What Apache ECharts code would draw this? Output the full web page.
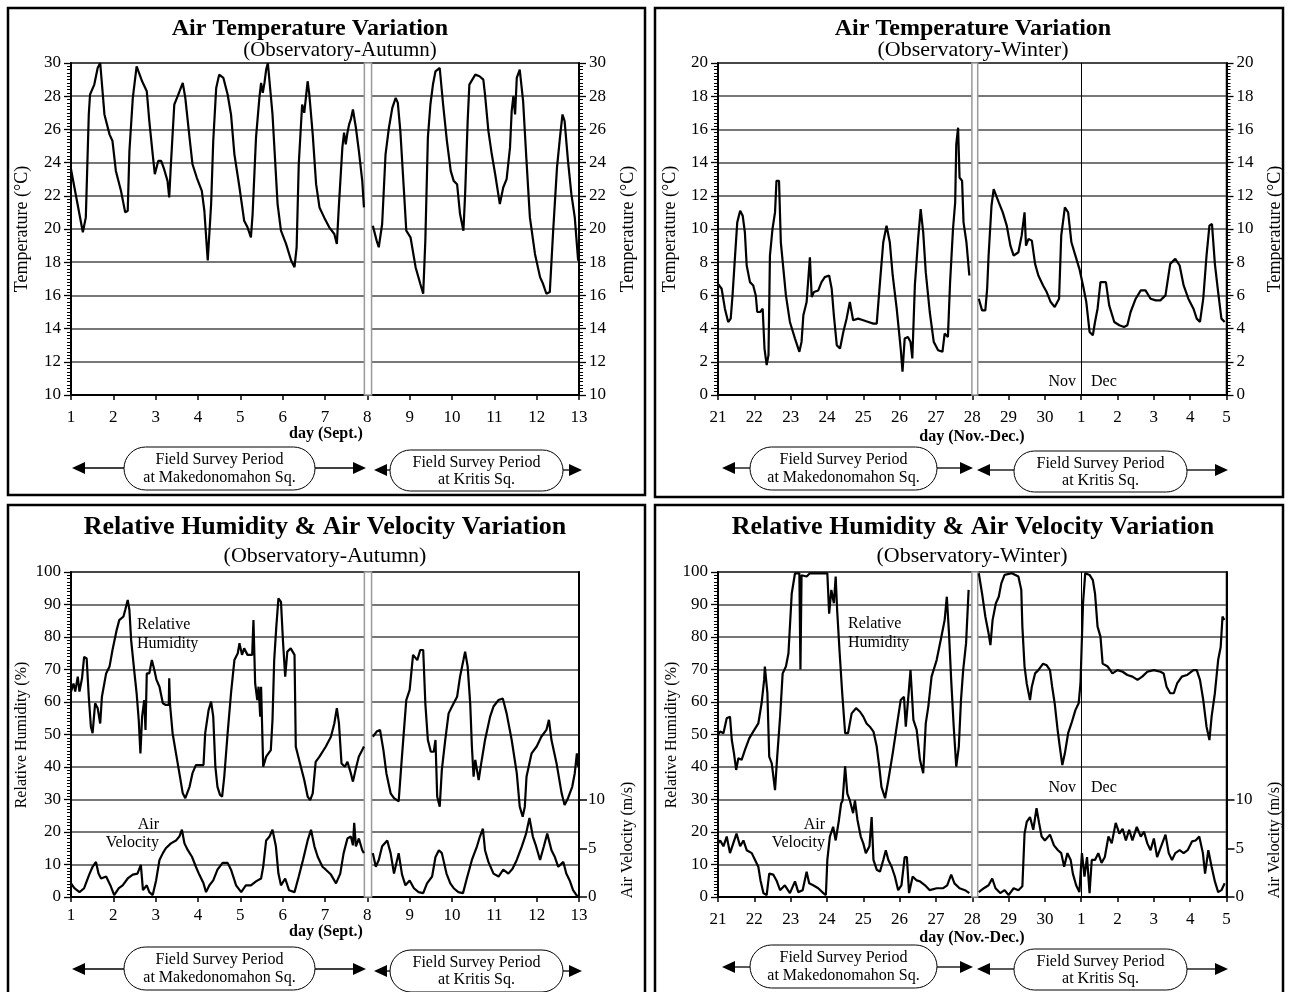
<!DOCTYPE html>
<html>
<head>
<meta charset="utf-8">
<script src="https://cdn.jsdelivr.net/npm/echarts@6/dist/echarts.min.js"></script>
<style>
html,body{margin:0;padding:0;background:#fff;}
#chart{width:1289px;height:992px;}
</style>
</head>
<body>
<div id="chart"></div>
<script>
// ---------------- DATA ----------------
// [day, value]; null marks the break at the change of survey site
const tempAutumnTicks = [1,2,3,4,5,6,7,8,9,10,11,12,13];
const tempAutumn = [[1.00,23.6],[1.28,19.8],[1.35,20.7],[1.42,26.9],[1.45,28.1],[1.55,28.7],[1.63,29.7],[1.69,30.0],[1.79,26.9],[1.91,25.7],[1.98,25.3],[2.06,23.5],[2.18,22.3],[2.28,21.0],[2.34,21.1],[2.38,24.7],[2.46,27.9],[2.55,29.8],[2.68,28.9],[2.79,28.3],[2.85,26.5],[2.93,24.5],[2.98,23.3],[3.06,24.1],[3.13,24.1],[3.20,23.6],[3.28,22.9],[3.32,21.9],[3.36,23.9],[3.44,27.5],[3.52,28.0],[3.64,28.8],[3.70,27.9],[3.80,25.5],[3.87,23.9],[3.97,23.1],[4.09,22.3],[4.15,21.1],[4.23,18.1],[4.31,21.5],[4.36,25.3],[4.43,28.5],[4.50,29.3],[4.60,29.1],[4.70,28.1],[4.78,26.9],[4.86,24.5],[4.98,22.5],[5.09,20.5],[5.17,20.1],[5.25,19.5],[5.29,20.9],[5.37,25.5],[5.45,27.9],[5.49,28.8],[5.53,28.2],[5.57,28.8],[5.61,29.6],[5.65,30.0],[5.76,26.9],[5.88,21.5],[5.96,19.9],[6.08,19.1],[6.20,18.1],[6.28,17.7],[6.33,18.9],[6.38,23.9],[6.46,27.5],[6.51,27.0],[6.59,28.9],[6.63,28.1],[6.71,25.7],[6.79,22.7],[6.87,21.3],[6.98,20.7],[7.10,20.1],[7.22,19.7],[7.28,19.1],[7.33,21.5],[7.41,24.9],[7.45,25.8],[7.49,25.1],[7.53,25.8],[7.57,26.3],[7.61,26.6],[7.66,27.2],[7.73,26.1],[7.80,24.7],[7.88,22.9],[7.92,21.3],
null,
[8.13,20.2],[8.22,19.3],[8.27,18.9],[8.35,20.3],[8.43,24.5],[8.51,26.1],[8.59,27.3],[8.67,27.9],[8.72,27.6],[8.78,25.9],[8.86,22.5],[8.92,19.9],[9.02,19.5],[9.14,17.7],[9.25,16.7],[9.32,16.1],[9.37,19.3],[9.43,25.5],[9.49,27.5],[9.55,28.7],[9.61,29.5],[9.71,29.7],[9.79,27.5],[9.88,25.3],[9.97,23.5],[10.04,22.9],[10.12,22.7],[10.19,20.9],[10.27,19.9],[10.31,22.1],[10.37,26.5],[10.41,28.7],[10.55,29.3],[10.65,29.2],[10.74,29.0],[10.78,28.1],[10.86,25.9],[10.94,24.5],[11.02,23.3],[11.13,21.5],[11.21,22.5],[11.29,23.0],[11.37,24.9],[11.41,27.1],[11.45,28.0],[11.49,26.9],[11.53,29.1],[11.60,29.6],[11.68,27.7],[11.76,24.1],[11.84,20.7],[11.96,18.5],[12.08,17.1],[12.15,16.7],[12.23,16.1],[12.31,16.2],[12.39,19.9],[12.48,23.7],[12.55,25.5],[12.61,26.9],[12.66,26.5],[12.74,24.1],[12.82,22.1],[12.90,20.7],[12.98,18.1]];

const tempWinter = [[21.00,6.7],[21.10,6.4],[21.19,5.2],[21.28,4.4],[21.35,4.6],[21.40,6.0],[21.47,8.4],[21.53,10.4],[21.61,11.1],[21.68,10.8],[21.74,9.8],[21.79,7.8],[21.88,6.8],[21.97,6.6],[22.04,6.0],[22.08,5.0],[22.16,5.0],[22.23,5.2],[22.28,2.8],[22.34,1.8],[22.39,2.4],[22.43,8.4],[22.50,10.0],[22.57,11.0],[22.61,12.9],[22.68,12.9],[22.73,9.2],[22.80,7.6],[22.87,6.0],[22.98,4.4],[23.12,3.4],[23.24,2.6],[23.30,3.2],[23.35,4.8],[23.44,5.6],[23.50,7.4],[23.53,8.3],[23.58,5.9],[23.64,6.2],[23.76,6.3],[23.85,6.8],[23.94,7.1],[24.06,7.2],[24.13,6.4],[24.19,4.8],[24.27,3.0],[24.36,2.8],[24.45,3.8],[24.54,4.6],[24.63,5.6],[24.72,4.5],[24.86,4.6],[25.00,4.5],[25.14,4.4],[25.28,4.3],[25.37,4.3],[25.46,6.8],[25.55,9.2],[25.64,10.2],[25.73,9.2],[25.81,7.2],[25.92,5.2],[26.03,2.8],[26.08,1.4],[26.14,3.4],[26.23,3.5],[26.30,3.2],[26.35,2.2],[26.42,6.6],[26.51,9.4],[26.58,11.2],[26.65,9.8],[26.72,7.4],[26.83,5.0],[26.94,3.2],[27.06,2.7],[27.18,2.6],[27.24,3.7],[27.33,3.5],[27.39,6.8],[27.47,10.0],[27.53,11.6],[27.56,15.1],[27.61,16.1],[27.65,13.1],[27.72,12.9],[27.76,10.4],[27.84,9.2],[27.92,7.2],
null,
[28.18,5.8],[28.27,5.1],[28.36,5.1],[28.41,6.4],[28.45,8.4],[28.53,11.4],[28.59,12.4],[28.64,12.4],[28.73,11.6],[28.84,11.0],[28.95,10.2],[29.05,9.0],[29.14,8.4],[29.27,8.6],[29.36,9.6],[29.44,11.0],[29.48,9.0],[29.55,9.4],[29.64,9.3],[29.73,7.9],[29.82,7.2],[29.95,6.6],[30.05,6.2],[30.16,5.6],[30.27,5.3],[30.39,5.8],[30.45,9.6],[30.55,11.3],[30.64,11.0],[30.73,9.2],[30.84,8.4],[30.95,7.6],[31.05,6.6],[31.14,5.6],[31.23,3.8],[31.32,3.6],[31.38,4.4],[31.45,5.2],[31.53,6.8],[31.68,6.8],[31.77,5.4],[31.91,4.4],[32.05,4.2],[32.18,4.1],[32.27,4.2],[32.36,5.0],[32.50,5.8],[32.64,6.3],[32.77,6.3],[32.91,5.8],[33.05,5.7],[33.18,5.7],[33.32,6.0],[33.45,7.9],[33.59,8.2],[33.71,7.8],[33.82,6.6],[33.95,5.8],[34.09,5.2],[34.18,4.6],[34.27,4.4],[34.36,5.8],[34.45,8.4],[34.53,10.2],[34.60,10.3],[34.68,7.9],[34.77,6.2],[34.86,4.6],[34.95,4.4]];

const humAutumn = [[1.00,63.2],[1.06,65.7],[1.10,63.2],[1.16,67.8],[1.20,63.2],[1.26,67.3],[1.31,73.9],[1.37,73.4],[1.42,61.6],[1.47,52.4],[1.51,50.4],[1.57,59.6],[1.63,58.1],[1.69,53.4],[1.73,61.6],[1.83,68.8],[1.91,70.9],[1.98,76.0],[2.08,82.2],[2.14,85.2],[2.24,86.3],[2.28,88.3],[2.34,91.4],[2.38,88.3],[2.42,79.1],[2.50,68.8],[2.55,62.7],[2.60,54.5],[2.64,44.2],[2.68,55.5],[2.73,60.6],[2.76,51.4],[2.79,68.8],[2.85,68.8],[2.91,72.9],[2.97,69.8],[3.02,66.8],[3.09,64.7],[3.17,59.6],[3.24,59.1],[3.31,59.1],[3.32,67.3],[3.34,59.1],[3.40,50.4],[3.48,44.2],[3.56,38.1],[3.64,31.9],[3.70,30.4],[3.80,33.9],[3.87,38.1],[3.95,40.6],[4.13,40.6],[4.17,50.4],[4.25,57.5],[4.31,60.1],[4.36,55.5],[4.41,40.1],[4.46,33.9],[4.52,31.4],[4.57,30.9],[4.62,37.0],[4.70,50.4],[4.78,62.7],[4.86,72.9],[4.94,75.0],[4.98,78.1],[5.04,74.5],[5.09,76.5],[5.17,74.5],[5.28,74.5],[5.31,85.2],[5.35,65.7],[5.40,60.6],[5.43,64.7],[5.47,55.5],[5.49,64.7],[5.54,40.1],[5.61,43.2],[5.72,45.2],[5.76,54.5],[5.80,72.9],[5.85,83.2],[5.90,91.9],[5.96,90.8],[6.01,78.1],[6.06,67.8],[6.11,75.5],[6.19,76.5],[6.28,74.5],[6.31,46.2],[6.41,41.1],[6.51,36.0],[6.59,30.9],[6.65,29.8],[6.71,31.9],[6.78,41.6],[6.87,43.2],[7.02,46.3],[7.14,49.3],[7.22,53.4],[7.28,58.1],[7.33,53.4],[7.39,41.1],[7.47,40.1],[7.53,41.6],[7.61,38.1],[7.66,35.5],[7.73,39.6],[7.80,43.2],[7.88,45.2],[7.92,46.3],
null,
[8.13,49.3],[8.22,50.9],[8.30,51.4],[8.38,45.2],[8.45,38.1],[8.55,31.9],[8.63,30.4],[8.74,29.4],[8.80,40.1],[8.86,50.4],[8.92,60.6],[9.00,63.7],[9.08,74.5],[9.18,72.9],[9.25,76.0],[9.32,76.0],[9.37,59.6],[9.43,48.3],[9.50,44.7],[9.57,44.7],[9.61,48.3],[9.65,30.9],[9.71,27.8],[9.76,39.1],[9.84,48.3],[9.92,56.5],[10.00,58.6],[10.12,61.6],[10.19,67.8],[10.27,72.9],[10.31,75.5],[10.37,70.9],[10.43,59.6],[10.47,46.3],[10.51,37.0],[10.55,42.2],[10.63,36.0],[10.69,41.1],[10.78,48.3],[10.90,55.5],[10.98,58.6],[11.10,60.6],[11.20,61.1],[11.29,56.5],[11.41,48.3],[11.53,38.1],[11.60,27.8],[11.67,24.7],[11.72,27.8],[11.76,37.0],[11.88,44.2],[12.00,46.3],[12.11,49.3],[12.23,51.4],[12.29,54.5],[12.35,48.3],[12.47,41.1],[12.59,31.9],[12.66,28.3],[12.74,30.4],[12.84,33.9],[12.90,38.1],[12.95,44.2],[12.98,40.1]];

const velAutumn = [[1.00,1.4],[1.08,0.9],[1.20,0.5],[1.31,0.9],[1.43,2.3],[1.51,3.1],[1.59,3.6],[1.65,2.4],[1.71,1.9],[1.83,2.1],[1.94,1.1],[2.02,0.2],[2.13,0.9],[2.22,1.2],[2.34,1.9],[2.46,2.3],[2.57,2.4],[2.65,3.3],[2.70,0.7],[2.79,1.2],[2.85,0.5],[2.93,0.2],[3.01,1.7],[3.09,3.8],[3.17,4.5],[3.24,5.0],[3.36,5.5],[3.48,5.8],[3.56,6.2],[3.62,6.9],[3.68,5.5],[3.76,4.8],[3.86,4.1],[3.95,3.1],[4.03,2.3],[4.13,1.4],[4.19,0.5],[4.27,1.2],[4.36,1.7],[4.46,2.8],[4.58,3.5],[4.70,3.5],[4.78,2.8],[4.90,1.2],[5.02,0.5],[5.13,1.2],[5.25,1.2],[5.37,1.6],[5.49,1.9],[5.54,3.1],[5.61,5.8],[5.69,6.2],[5.76,6.9],[5.84,5.2],[5.90,2.4],[5.96,1.2],[6.06,1.9],[6.15,0.7],[6.28,0.5],[6.38,2.1],[6.48,3.8],[6.59,5.8],[6.67,6.9],[6.75,5.2],[6.83,4.1],[6.94,3.1],[7.02,2.8],[7.14,2.3],[7.26,1.4],[7.36,2.4],[7.44,4.5],[7.53,6.0],[7.61,6.2],[7.66,5.3],[7.69,7.6],[7.73,5.2],[7.80,6.0],[7.88,4.8],[7.92,4.5],
null,
[8.13,4.5],[8.20,3.1],[8.27,3.8],[8.35,5.2],[8.47,5.8],[8.55,4.5],[8.63,2.4],[8.74,4.5],[8.82,2.3],[8.90,1.2],[9.00,1.7],[9.10,0.9],[9.21,0.5],[9.32,0.4],[9.41,1.4],[9.53,2.1],[9.61,4.1],[9.69,4.8],[9.76,4.5],[9.87,2.4],[9.96,1.4],[10.04,0.9],[10.15,0.5],[10.26,0.4],[10.35,1.9],[10.47,3.8],[10.59,5.2],[10.66,6.2],[10.73,7.0],[10.78,4.8],[10.86,3.6],[10.98,2.4],[11.10,2.1],[11.21,2.8],[11.33,2.4],[11.43,2.9],[11.53,3.8],[11.65,5.2],[11.75,6.5],[11.83,8.1],[11.91,6.2],[11.98,5.3],[12.08,3.8],[12.17,5.2],[12.25,6.5],[12.35,4.8],[12.43,4.1],[12.51,3.1],[12.63,3.6],[12.70,2.4],[12.78,1.7],[12.86,0.7],[12.94,0.2],[12.98,0.0]];

const humWinter = [[21.00,50.0],[21.06,50.9],[21.15,50.4],[21.24,55.0],[21.33,55.5],[21.38,48.3],[21.44,44.2],[21.50,39.1],[21.56,42.7],[21.65,42.2],[21.74,45.2],[21.86,48.8],[21.97,50.9],[22.11,53.4],[22.20,59.6],[22.27,66.8],[22.29,70.9],[22.36,62.7],[22.41,43.2],[22.48,41.1],[22.57,32.9],[22.63,43.2],[22.71,55.5],[22.78,68.8],[22.87,70.9],[22.94,75.0],[23.03,93.4],[23.12,99.6],[23.24,99.6],[23.27,70.0],[23.30,99.0],[23.35,98.6],[23.44,98.6],[23.53,99.6],[23.81,99.6],[24.01,99.6],[24.06,87.2],[24.12,94.5],[24.19,90.4],[24.24,98.6],[24.28,88.3],[24.35,75.0],[24.42,62.7],[24.50,50.4],[24.58,50.4],[24.68,56.5],[24.80,58.1],[24.91,57.0],[25.00,55.5],[25.09,53.4],[25.18,52.4],[25.28,50.9],[25.37,46.3],[25.44,40.1],[25.50,33.9],[25.60,30.4],[25.69,36.0],[25.81,44.2],[25.92,52.4],[26.03,60.6],[26.12,61.6],[26.17,52.4],[26.24,61.6],[26.30,69.8],[26.38,54.5],[26.47,51.4],[26.56,42.2],[26.65,38.1],[26.72,53.4],[26.79,58.6],[26.88,67.8],[27.02,72.9],[27.15,80.1],[27.24,85.2],[27.30,92.4],[27.36,81.1],[27.42,66.8],[27.49,52.4],[27.56,40.1],[27.63,46.3],[27.69,60.6],[27.75,69.8],[27.83,78.1],[27.90,94.5],
null,
[28.18,99.6],[28.27,93.4],[28.36,86.3],[28.45,81.1],[28.50,77.5],[28.56,85.2],[28.65,90.4],[28.73,92.4],[28.80,96.5],[28.89,99.1],[29.09,99.6],[29.27,98.6],[29.35,94.5],[29.38,83.2],[29.44,70.9],[29.50,65.7],[29.59,60.6],[29.64,64.7],[29.73,68.8],[29.82,69.8],[29.95,71.8],[30.05,71.3],[30.14,69.8],[30.20,64.7],[30.27,59.6],[30.35,51.4],[30.41,46.3],[30.48,40.6],[30.55,44.2],[30.64,50.4],[30.73,53.4],[30.84,57.5],[30.93,59.6],[30.98,65.7],[31.05,90.4],[31.11,99.6],[31.23,99.1],[31.32,97.5],[31.38,93.4],[31.45,83.2],[31.53,80.1],[31.59,71.8],[31.73,70.9],[31.86,68.8],[32.00,69.8],[32.14,69.3],[32.27,68.3],[32.41,67.8],[32.55,66.8],[32.68,67.8],[32.82,69.3],[33.00,69.8],[33.18,69.3],[33.27,68.8],[33.35,64.7],[33.45,62.7],[33.55,62.7],[33.64,65.7],[33.77,67.8],[33.91,68.3],[34.09,69.8],[34.18,69.8],[34.27,66.8],[34.36,60.6],[34.45,52.4],[34.53,48.3],[34.59,55.5],[34.68,62.7],[34.77,72.9],[34.84,76.9],[34.89,86.3],[34.94,85.2]];

const velWinter = [[21.00,5.5],[21.06,5.8],[21.15,5.2],[21.24,6.2],[21.33,4.5],[21.42,5.5],[21.51,6.5],[21.61,5.2],[21.70,5.8],[21.79,4.8],[21.93,4.5],[22.02,3.8],[22.11,3.1],[22.17,1.7],[22.25,0.4],[22.34,0.2],[22.41,2.4],[22.52,2.3],[22.61,1.7],[22.71,0.7],[22.84,1.2],[22.98,0.4],[23.12,1.6],[23.21,0.5],[23.33,0.7],[23.44,2.6],[23.51,1.4],[23.62,1.2],[23.76,0.9],[23.90,0.4],[23.97,0.2],[24.01,3.8],[24.08,6.2],[24.17,7.2],[24.24,5.8],[24.33,7.9],[24.39,9.6],[24.43,9.9],[24.50,13.4],[24.56,10.6],[24.63,9.9],[24.72,8.6],[24.77,9.9],[24.84,7.9],[24.93,6.2],[25.00,5.5],[25.07,4.5],[25.17,5.2],[25.23,8.2],[25.28,3.8],[25.37,2.8],[25.46,2.6],[25.55,3.8],[25.62,4.8],[25.69,3.8],[25.78,3.1],[25.87,2.1],[25.96,0.7],[26.05,1.2],[26.14,4.1],[26.20,4.1],[26.26,0.4],[26.36,2.1],[26.47,1.7],[26.56,1.6],[26.70,1.2],[26.83,0.7],[27.02,0.9],[27.20,0.9],[27.31,1.2],[27.42,2.3],[27.51,1.4],[27.65,0.9],[27.80,0.7],[27.92,0.4],
null,
[28.18,0.5],[28.32,0.9],[28.45,1.2],[28.55,1.9],[28.64,0.9],[28.77,0.4],[28.89,0.7],[29.00,0.2],[29.14,0.9],[29.27,0.7],[29.38,1.1],[29.44,6.5],[29.50,7.7],[29.59,8.2],[29.68,6.9],[29.77,9.1],[29.84,7.6],[29.91,6.2],[30.00,5.8],[30.14,6.4],[30.25,5.3],[30.36,4.8],[30.45,4.5],[30.53,3.1],[30.62,4.5],[30.71,3.8],[30.77,2.4],[30.86,1.2],[30.95,0.5],[31.02,4.5],[31.09,2.1],[31.16,4.1],[31.23,0.4],[31.29,3.8],[31.38,3.8],[31.47,4.5],[31.56,3.5],[31.65,4.1],[31.75,6.2],[31.84,5.5],[31.95,7.6],[32.05,6.5],[32.14,7.0],[32.23,5.8],[32.32,6.9],[32.41,5.8],[32.53,7.2],[32.64,6.2],[32.73,6.7],[32.82,5.5],[32.91,4.8],[33.00,6.0],[33.09,4.1],[33.20,5.2],[33.32,6.4],[33.41,4.5],[33.50,3.8],[33.59,4.5],[33.71,4.8],[33.82,4.5],[33.93,4.8],[34.05,5.7],[34.15,5.8],[34.25,6.2],[34.35,4.5],[34.41,2.4],[34.50,4.8],[34.59,3.1],[34.68,1.6],[34.77,0.5],[34.86,0.7],[34.95,1.4]];

const velocityTicks = [0,5,10];
const siteChangeAutumn = [7.93, 8.10];
const siteChangeWinter = [27.99, 28.15];
const monthChangeDay = 31;

// ---------------- CHART ----------------
const FONT = 'Liberation Serif';
const chart = echarts.init(document.getElementById('chart'), null, {renderer:'canvas'});

function toSeriesData(arr){ return arr.map(p => p === null ? ['-','-'] : p); }

function xAxisCfg(gi, min, max, margin, fmt){
  return {type:'value', gridIndex:gi, min, max, interval:1,
    axisLine:{show:true,onZero:false,lineStyle:{color:'#000',width:2}},
    axisTick:{show:true,length:5,lineStyle:{color:'#000',width:1.5}},
    axisLabel:{color:'#000',fontFamily:FONT,fontSize:17,margin, formatter: fmt || (v=>String(v)), hideOverlap:false, showMinLabel:true, showMaxLabel:true},
    splitLine:{show:false}};
}
function yAxisCfg(gi, pos, min, max, interval, grid){
  return {type:'value', gridIndex:gi, position:pos, min, max, interval,
    axisLine:{show:true,onZero:false,lineStyle:{color:'#000',width:2}},
    axisTick:{show:true,length:7,lineStyle:{color:'#000',width:1.3}},
    minorTick:{show:true,splitNumber:10,length:4,lineStyle:{color:'#000',width:1}},
    axisLabel:{color:'#000',fontFamily:FONT,fontSize:17,margin:10, showMinLabel:true, showMaxLabel:true},
    splitLine:{show:grid,lineStyle:{color:'#4a4a4a',width:1.6}}};
}
function velAxisCfg(gi){
  return {type:'value', gridIndex:gi, position:'right', min:0, max:100/3,
    axisLine:{show:true,lineStyle:{color:'#000',width:2}},
    axisTick:{show:true,length:8,customValues:velocityTicks,lineStyle:{color:'#000',width:1.5}},
    axisLabel:{color:'#000',fontFamily:FONT,fontSize:17,margin:9,customValues:velocityTicks},
    splitLine:{show:false}, minorTick:{show:false}};
}
function lineSeries(xi, yi, data, extra){
  return Object.assign({type:'line', xAxisIndex:xi, yAxisIndex:yi, data:toSeriesData(data),
    showSymbol:false, symbol:'none', connectNulls:false, silent:true,
    lineStyle:{color:'#000',width:2.2}, z:5}, extra||{});
}
function siteBar(range){
  return {silent:true, itemStyle:{color:'#fff',borderColor:'#9a9a9a',borderWidth:1.5},
    data:[[{xAxis:range[0]},{xAxis:range[1]}]]};
}
const monthLine = {silent:true, symbol:['none','none'], label:{show:false},
  lineStyle:{color:'#000',width:1,type:'solid'}, data:[{xAxis:monthChangeDay}]};

const winterFmt = v => String(v > 30 ? v - 30 : v);

// text helpers
function txt(x, y, text, font, align, extra){
  return Object.assign({type:'text', x, y, silent:true, z:100,
    style:{text, font, fill:'#000', textAlign:align||'center', textVerticalAlign:'middle'}}, extra||{});
}
function vtxt(x, y, text, size){
  return {type:'text', x, y, rotation:Math.PI/2, silent:true, z:100,
    style:{text, font:(size||16)+'px "'+FONT+'"', fill:'#000', textAlign:'center', textVerticalAlign:'middle'}};
}
function box(x,y,w,h){
  return {type:'rect', shape:{x,y,width:w,height:h}, silent:true, z:100,
    style:{fill:null, stroke:'#000', lineWidth:2.5}};
}
function survey(tipL, tipR, pL, pR, pTop, pBot, ay, l1, l2){
  const els = [];
  const ah = 13, aw = 6;
  els.push({type:'line', shape:{x1:tipL+ah, y1:ay, x2:pL, y2:ay}, style:{stroke:'#000', lineWidth:1.3}, silent:true, z:100});
  els.push({type:'line', shape:{x1:pR, y1:ay, x2:tipR-ah, y2:ay}, style:{stroke:'#000', lineWidth:1.3}, silent:true, z:100});
  els.push({type:'polygon', shape:{points:[[tipL,ay],[tipL+ah,ay-aw],[tipL+ah,ay+aw]]}, style:{fill:'#000'}, silent:true, z:100});
  els.push({type:'polygon', shape:{points:[[tipR,ay],[tipR-ah,ay-aw],[tipR-ah,ay+aw]]}, style:{fill:'#000'}, silent:true, z:100});
  const h = pBot - pTop;
  els.push({type:'rect', shape:{x:pL, y:pTop, width:pR-pL, height:h, r:h/2}, style:{fill:'#fff', stroke:'#000', lineWidth:1}, silent:true, z:100});
  const cx = (pL+pR)/2;
  els.push(txt(cx, pTop + h*0.3, l1, '16px "'+FONT+'"'));
  els.push(txt(cx, pTop + h*0.72, l2, '16px "'+FONT+'"'));
  return els;
}

const TB = 'bold 24px "'+FONT+'"';
const TB2 = 'bold 26px "'+FONT+'"';
const TS = '21px "'+FONT+'"';
const TS2 = '22px "'+FONT+'"';
const LB = 'bold 16px "'+FONT+'"';
const LT = '16px "'+FONT+'"';

const graphics = [
  box(8,8,637,487), box(655,8,628,489), box(8,505,637,500), box(655,505,628,500),
  txt(310,29,'Air Temperature Variation',TB), txt(340,50,'(Observatory-Autumn)',TS),
  txt(973,29,'Air Temperature Variation',TB), txt(973,50,'(Observatory-Winter)',TS2),
  txt(325,527,'Relative Humidity & Air Velocity Variation',TB2), txt(325,556,'(Observatory-Autumn)',TS2),
  txt(973,527,'Relative Humidity & Air Velocity Variation',TB2), txt(972,556,'(Observatory-Winter)',TS2),
  vtxt(22,229,'Temperature (\u00B0C)',18), vtxt(628,229,'Temperature (\u00B0C)',18),
  vtxt(670,229,'Temperature (\u00B0C)',18), vtxt(1275,229,'Temperature (\u00B0C)',18),
  vtxt(22,735,'Relative Humidity (%)',16), vtxt(628,840,'Air Velocity (m/s)',16),
  vtxt(672,735,'Relative Humidity (%)',16), vtxt(1275,840,'Air Velocity (m/s)',16),
  txt(326,434,'day (Sept.)',LB), txt(972,437,'day (Nov.-Dec.)',LB),
  txt(326,932,'day (Sept.)',LB), txt(972,938,'day (Nov.-Dec.)',LB),
  txt(137,625,'Relative',LT,'left'), txt(137,644,'Humidity',LT,'left'),
  txt(159,825,'Air',LT,'right'), txt(159,843,'Velocity',LT,'right'),
  txt(848,624,'Relative',LT,'left'), txt(848,643,'Humidity',LT,'left'),
  txt(825,825,'Air',LT,'right'), txt(825,843,'Velocity',LT,'right'),
  txt(1076,382,'Nov',LT,'right'), txt(1091,382,'Dec',LT,'left'),
  txt(1076,788,'Nov',LT,'right'), txt(1091,788,'Dec',LT,'left'),
].concat(
  survey(72,366,124,315,447,490,468,'Field Survey Period','at Makedonomahon Sq.'),
  survey(374,582,390,563,450,491,470,'Field Survey Period','at Kritis Sq.'),
  survey(722,973,750,937,447,490,468,'Field Survey Period','at Makedonomahon Sq.'),
  survey(977,1228,1014,1187,451,492,470,'Field Survey Period','at Kritis Sq.'),
  survey(72,366,124,315,947,990,969,'Field Survey Period','at Makedonomahon Sq.'),
  survey(374,582,390,563,950,992,971,'Field Survey Period','at Kritis Sq.'),
  survey(722,973,750,937,945,988,967,'Field Survey Period','at Makedonomahon Sq.'),
  survey(977,1228,1014,1187,949,990,969,'Field Survey Period','at Kritis Sq.')
);

const gridBase = {show:true, borderColor:'#000', borderWidth:1.5, backgroundColor:'transparent', containLabel:false, outerBoundsMode:'none'};

chart.setOption({
  animation:false,
  backgroundColor:'#fff',
  grid:[
    Object.assign({left:71, top:63, width:508, height:332}, gridBase),
    Object.assign({left:718, top:63, width:508.5, height:332}, gridBase),
    Object.assign({left:71, top:572, width:508, height:325}, gridBase),
    Object.assign({left:718, top:572, width:508.5, height:325}, gridBase)
  ],
  xAxis:[
    xAxisCfg(0, tempAutumnTicks[0], tempAutumnTicks[tempAutumnTicks.length-1], 14),
    xAxisCfg(1, 21, 35, 14, winterFmt),
    xAxisCfg(2, tempAutumnTicks[0], tempAutumnTicks[tempAutumnTicks.length-1], 10),
    xAxisCfg(3, 21, 35, 14, winterFmt)
  ],
  yAxis:[
    yAxisCfg(0,'left',10,30,2,true),
    yAxisCfg(0,'right',10,30,2,false),
    yAxisCfg(1,'left',0,20,2,true),
    yAxisCfg(1,'right',0,20,2,false),
    yAxisCfg(2,'left',0,100,10,true),
    velAxisCfg(2),
    yAxisCfg(3,'left',0,100,10,true),
    velAxisCfg(3)
  ],
  series:[
    lineSeries(0,0,tempAutumn,{markArea:siteBar(siteChangeAutumn)}),
    lineSeries(1,2,tempWinter,{markArea:siteBar(siteChangeWinter), markLine:monthLine}),
    lineSeries(2,4,humAutumn,{markArea:siteBar(siteChangeAutumn)}),
    lineSeries(2,5,velAutumn),
    lineSeries(3,6,humWinter,{markArea:siteBar(siteChangeWinter), markLine:monthLine}),
    lineSeries(3,7,velWinter)
  ],
  graphic:{elements:graphics}
});
</script>
</body>
</html>
